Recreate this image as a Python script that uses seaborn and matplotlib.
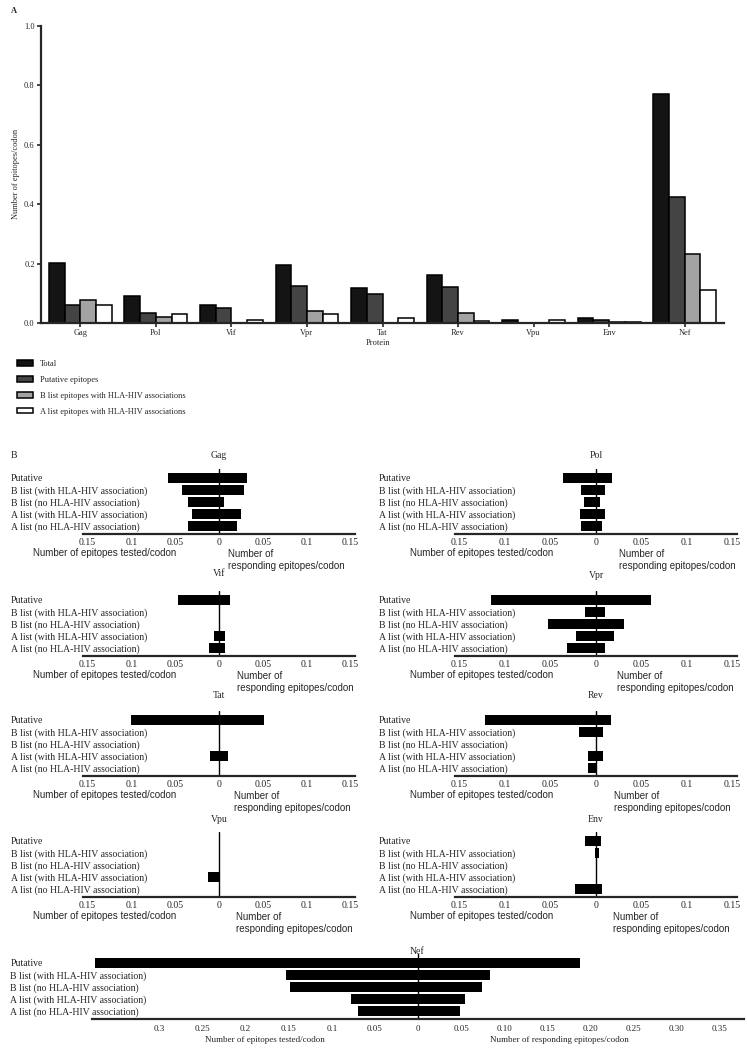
import numpy as np
import pandas as pd
import seaborn as sns
from matplotlib import pyplot as plt

# ---- panel A data (epitopes per codon) ----
proteins = ['Gag', 'Pol', 'Vif', 'Vpr', 'Tat', 'Rev', 'Vpu', 'Env', 'Nef']
total = [0.203, 0.091, 0.062, 0.196, 0.119, 0.163, 0.011, 0.017, 0.771]
putative = [0.061, 0.034, 0.050, 0.123, 0.098, 0.120, 0.0, 0.011, 0.425]
b_list_hla = [0.079, 0.021, 0.0, 0.039, 0.0, 0.034, 0.0, 0.003, 0.231]
a_list_hla = [0.061, 0.030, 0.009, 0.030, 0.018, 0.008, 0.011, 0.003, 0.110]
series_names = ['Total', 'Putative epitopes',
                'B list epitopes with HLA-HIV associations',
                'A list epitopes with HLA-HIV associations']

# ---- panel B data (tested on the left, responding on the right) ----
rows = ['Putative', 'B list (with HLA-HIV association)', 'B list (no HLA-HIV association)',
        'A list (with HLA-HIV association)', 'A list (no HLA-HIV association)']
gag_tested = [0.058, 0.042, 0.035, 0.031, 0.035]
gag_responding = [0.032, 0.028, 0.006, 0.025, 0.020]
pol_tested = [0.036, 0.017, 0.013, 0.018, 0.017]
pol_responding = [0.018, 0.010, 0.004, 0.010, 0.007]
vif_tested = [0.047, 0.0, 0.0, 0.006, 0.011]
vif_responding = [0.012, 0.0, 0.0, 0.007, 0.007]
vpr_tested = [0.115, 0.012, 0.053, 0.022, 0.032]
vpr_responding = [0.061, 0.010, 0.031, 0.020, 0.010]
tat_tested = [0.100, 0.0, 0.0, 0.010, 0.0]
tat_responding = [0.051, 0.0, 0.0, 0.010, 0.0]
rev_tested = [0.122, 0.019, 0.0, 0.009, 0.009]
rev_responding = [0.016, 0.008, 0.0, 0.008, 0.0]
vpu_tested = [0.0, 0.0, 0.0, 0.012, 0.0]
vpu_responding = [0.0, 0.0, 0.0, 0.0, 0.0]
env_tested = [0.012, 0.001, 0.0, 0.0, 0.023]
env_responding = [0.005, 0.003, 0.0, 0.0, 0.007]
nef_tested = [0.375, 0.153, 0.148, 0.078, 0.069]
nef_responding = [0.188, 0.084, 0.074, 0.054, 0.049]
small_ticks = [-0.15, -0.1, -0.05, 0, 0.05, 0.1, 0.15]
small_ticklabels = ['0.15', '0.1', '0.05', '0', '0.05', '0.1', '0.15']
nef_ticks = [-0.3, -0.25, -0.2, -0.15, -0.1, -0.05, 0, 0.05, 0.1, 0.15, 0.2, 0.25, 0.3, 0.35]
nef_ticklabels = ['0.3', '0.25', '0.2', '0.15', '0.1', '0.05', '0',
                  '0.05', '0.10', '0.15', '0.20', '0.25', '0.30', '0.35']

sns.set_style('ticks')
SERIF = ['Liberation Serif', 'DejaVu Serif']
SANS = ['Liberation Sans', 'DejaVu Sans']
plt.rcParams['font.family'] = SERIF

W, H = 747, 1050
fig = plt.figure(figsize=(7.47, 10.5), dpi=100)


def add_ax(left, top, right, bottom):
    # pixel box -> figure fraction
    return fig.add_axes([left / W, 1 - bottom / H, (right - left) / W, (bottom - top) / H])


def ftext(x, y, s, **kw):
    return fig.text(x / W, 1 - y / H, s, **kw)


# ================= panel A =================
df = pd.DataFrame({
    'Protein': proteins * 4,
    'value': total + putative + b_list_hla + a_list_hla,
    'series': sum([[n] * len(proteins) for n in series_names], []),
})
ax = add_ax(41, 25.7, 724, 323)
sns.barplot(data=df, x='Protein', y='value', hue='series',
            palette=['#141414', '#444444', '#a3a3a3', '#ffffff'],
            edgecolor='black', linewidth=1.1, width=0.83, gap=0,
            saturation=1, ax=ax)
ax.set_xlim(-0.52, 8.52)
ax.set_ylim(0, 1.0)
ax.set_yticks(np.arange(0, 1.01, 0.2))
ax.set_yticklabels([f'{v:.1f}' for v in np.arange(0, 1.01, 0.2)])
sns.despine(ax=ax)
for s in ['left', 'bottom']:
    ax.spines[s].set_linewidth(1.6)
ax.tick_params(axis='both', length=3, width=1.2, labelsize=6, pad=1.5)
ax.set_ylabel('Number of epitopes/codon', fontsize=6)
ax.yaxis.set_label_coords((20 - 41) / 683, 0.5)
ax.set_xlabel('Protein', fontsize=6)
ax.xaxis.set_label_coords(0.5 - 4 / 683, -(339 - 323) / 297)
handles, labels = ax.get_legend_handles_labels()
ax.legend(handles, labels, loc='upper left', bbox_to_anchor=(17 / W, 1 - 360 / H),
          bbox_transform=fig.transFigure, frameon=False, fontsize=6,
          handlelength=1.9, handleheight=0.6, labelspacing=0.95,
          handletextpad=0.85, borderaxespad=0, borderpad=0)
ftext(14, 11, 'A', fontsize=6, fontweight='bold', ha='center', va='center')

# ================= panel B =================
ftext(14, 456, 'B', fontsize=7, ha='center', va='center')

# name, data, column box (left, right, zero, label x), first row y, title y, "Number of" offset
left_col = (83, 355, 219, 11)
right_col = (455, 737, 596, 379)
panels = [
    ('Gag', gag_tested, gag_responding, left_col, 478, 455, 9),
    ('Pol', pol_tested, pol_responding, right_col, 478, 455, 23),
    ('Vif', vif_tested, vif_responding, left_col, 600, 573, 18),
    ('Vpr', vpr_tested, vpr_responding, right_col, 600, 576, 21),
    ('Tat', tat_tested, tat_responding, left_col, 720, 696, 15),
    ('Rev', rev_tested, rev_responding, right_col, 720, 696, 18),
    ('Vpu', vpu_tested, vpu_responding, left_col, 841, 819, 17),
    ('Env', env_tested, env_responding, right_col, 841, 819, 17),
]


def draw_panel(ax, tested, responding, label_pad, lim):
    sns.barplot(x=[-v for v in tested], y=rows, orient='h', color='black',
                width=0.83, saturation=1, linewidth=0, ax=ax)
    sns.barplot(x=responding, y=rows, orient='h', color='black',
                width=0.83, saturation=1, linewidth=0, ax=ax)
    ax.set_xlim(-lim, lim)
    ax.set_ylim(4.67, -0.75)
    ax.axvline(0, color='black', lw=1.0)
    for s in ['top', 'right', 'left']:
        ax.spines[s].set_visible(False)
    ax.spines['bottom'].set_linewidth(1.6)
    ax.set_xlabel('')
    ax.set_ylabel('')
    ax.tick_params(axis='x', length=0, pad=3, labelsize=7)
    ax.tick_params(axis='y', length=0, pad=label_pad, labelsize=7)
    for t in ax.get_yticklabels():
        t.set_horizontalalignment('left')


for name, tested, responding, col, first, title_y, off in panels:
    l, r, zero, lab_x = col
    top, bottom = first - 9, first + 56
    ax = add_ax(l, top, r, bottom)
    draw_panel(ax, tested, responding, (l - lab_x) * 0.72, 0.155)
    ax.set_xticks(small_ticks)
    ax.set_xticklabels(small_ticklabels)
    ftext(zero, title_y, name, fontsize=7, ha='center', va='center')
    ftext(zero - 114, bottom + 19, 'Number of epitopes tested/codon',
          fontsize=7, family=SANS, ha='center', va='center')
    ftext(zero + off, bottom + 15, 'Number of\nresponding epitopes/codon',
          fontsize=7, family=SANS, ha='left', va='top', linespacing=1.25)

# Nef, full width
ax = add_ax(92, 954, 744, 1019)
draw_panel(ax, nef_tested, nef_responding, (92 - 10.5) * 0.72, 0.378)
ax.set_xticks(nef_ticks)
ax.set_xticklabels(nef_ticklabels)
ax.tick_params(axis='x', labelsize=6.5, pad=4)
ftext(417, 951, 'Nef', fontsize=7, ha='center', va='center')
ftext(265, 1040, 'Number of epitopes tested/codon', fontsize=6.5, ha='center', va='center')
ftext(559, 1040, 'Number of responding epitopes/codon', fontsize=6.5, ha='center', va='center')

fig.savefig('out.png', dpi=100)
